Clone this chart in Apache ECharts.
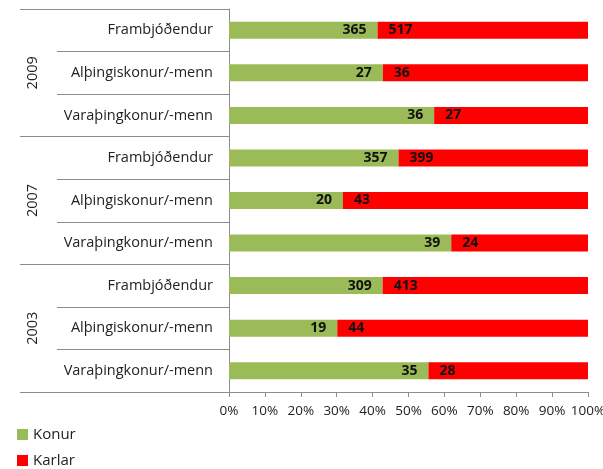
<!DOCTYPE html>
<html>
<head>
<meta charset="utf-8">
<script src="https://cdn.jsdelivr.net/npm/echarts@6/dist/echarts.min.js"></script>
<style>
  html, body { margin: 0; padding: 0; background: #fff; }
  #chart { width: 603px; height: 469px; }
</style>
</head>
<body>
<div id="chart"></div>
<script>
const years = ['2009', '2007', '2003']
const roles = ['Frambjóðendur', 'Alþingiskonur/-menn', 'Varaþingkonur/-menn']
// counts per year, in role order
const konur = [365, 27, 36, 357, 20, 39, 309, 19, 35]
const karlar = [517, 36, 27, 399, 43, 24, 413, 44, 28]

const categories = []
years.forEach(() => roles.forEach((r) => categories.push(r)))

const pct = (a, b) => a.map((v, i) => (v / (v + b[i])) * 100)
const konurPct = pct(konur, karlar)
const karlarPct = pct(karlar, konur)

const font = 'Open Sans'
const axisColor = '#8c8c8c'
const textColor = '#222'

const legendItem = (name, top) => ({
  left: 17,
  top,
  padding: 0,
  itemWidth: 11,
  itemHeight: 11,
  itemGap: 5,
  icon: 'rect',
  textStyle: { fontFamily: font, fontSize: 15, color: textColor },
  data: [name],
})

const chart = echarts.init(document.getElementById('chart'))
chart.setOption({
  animation: false,
  textStyle: { fontFamily: font },
  grid: { left: 229, right: 15, top: 9, bottom: 77, outerBoundsMode: 'none' },
  legend: [legendItem('Konur', 427), legendItem('Karlar', 453)],
  xAxis: {
    type: 'value',
    min: 0,
    max: 100,
    interval: 10,
    axisLine: { show: true, lineStyle: { color: axisColor } },
    axisTick: { show: true, length: 5, lineStyle: { color: axisColor } },
    splitLine: { show: false },
    axisLabel: { formatter: '{value}%', color: textColor, fontSize: 13.5, margin: 12, fontFamily: font },
  },
  yAxis: [
    {
      type: 'category',
      inverse: true,
      data: categories,
      axisLine: { show: true, lineStyle: { color: axisColor } },
      axisTick: { show: true, length: 172, lineStyle: { color: axisColor } },
      axisLabel: { color: textColor, fontSize: 14.5, margin: 16, fontFamily: font },
    },
    {
      type: 'category',
      inverse: true,
      position: 'left',
      data: years,
      axisLine: { show: false },
      axisTick: { show: true, length: 209, lineStyle: { color: axisColor } },
      axisLabel: { color: textColor, fontSize: 14.5, rotate: 90, margin: 189, fontFamily: font },
    },
  ],
  series: [
    {
      name: 'Konur',
      type: 'bar',
      stack: 'tot',
      yAxisIndex: 0,
      barWidth: 17,
      itemStyle: { color: '#9bbb59' },
      label: {
        show: true,
        position: 'insideRight',
        distance: 11,
        fontWeight: 'bold',
        fontSize: 14,
        color: '#111',
        formatter: (p) => konur[p.dataIndex],
      },
      data: konurPct,
    },
    {
      name: 'Karlar',
      type: 'bar',
      stack: 'tot',
      yAxisIndex: 0,
      barWidth: 17,
      itemStyle: { color: '#ff0000' },
      label: {
        show: true,
        position: 'insideLeft',
        distance: 11,
        fontWeight: 'bold',
        fontSize: 14,
        color: '#111',
        formatter: (p) => karlar[p.dataIndex],
      },
      data: karlarPct,
    },
  ],
})
</script>
</body>
</html>
